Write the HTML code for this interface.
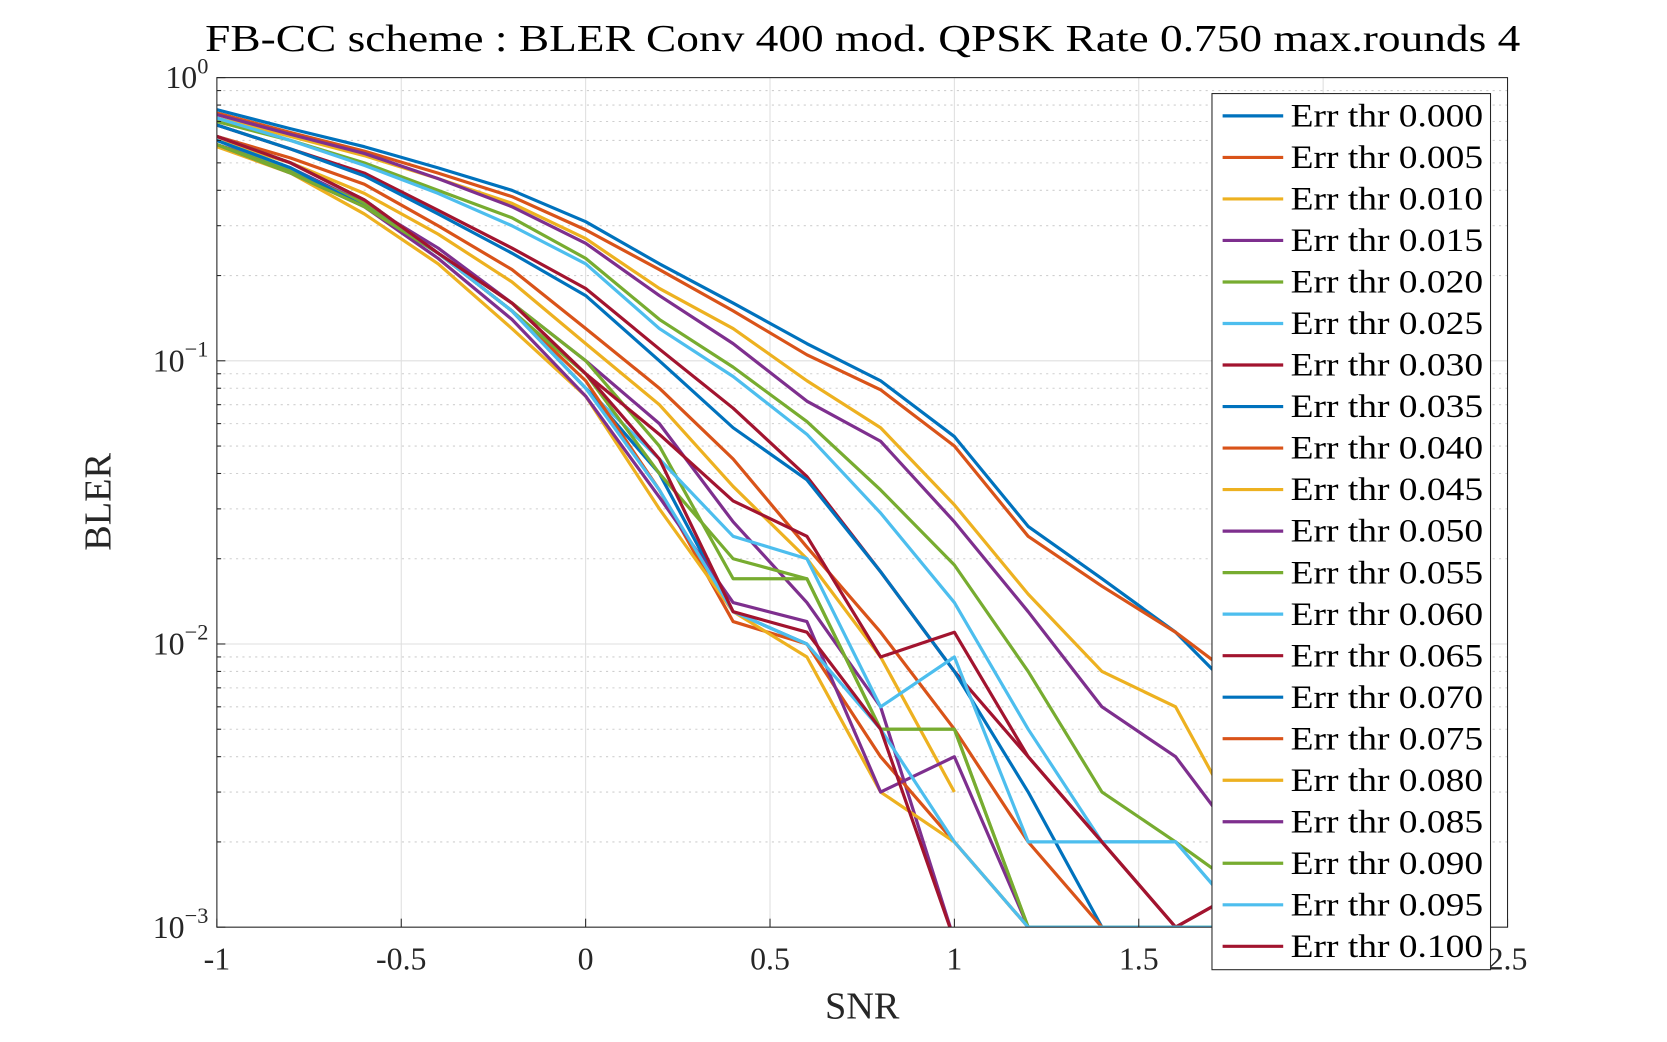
<!DOCTYPE html>
<html><head><meta charset="utf-8"><style>
html,body{margin:0;padding:0;background:#fff}
svg{display:block;font-family:"Liberation Serif",serif}
</style></head><body>
<svg id="chart" width="1667" height="1042" viewBox="0 0 1568 980" preserveAspectRatio="none" xmlns="http://www.w3.org/2000/svg">
<defs><clipPath id="pc"><rect x="204" y="73" width="1214" height="799"/></clipPath></defs>
<rect x="0" y="0" width="1568" height="980" fill="#fff"/>
<rect x="204" y="73" width="1214" height="799" fill="#fff"/>
<g id="grid"></g>
<g id="series" clip-path="url(#pc)"></g>
<rect x="204" y="73" width="1214" height="799" fill="none" stroke="#262626" stroke-width="1"/>
<g id="ticks"></g>
<text x="193" y="48" textLength="1237" lengthAdjust="spacingAndGlyphs" font-size="36" fill="#000">FB-CC scheme : BLER Conv 400 mod. QPSK Rate 0.750 max.rounds 4</text>
<text x="811" y="958" text-anchor="middle" font-size="36" fill="#262626">SNR</text>
<text transform="translate(104,472) rotate(-90)" text-anchor="middle" font-size="36" fill="#262626">BLER</text>
<g id="legend"></g>
</svg>
<script>
const xs=[-1,-0.8,-0.6,-0.4,-0.2,0,0.2,0.4,0.6,0.8,1.0,1.2,1.4,1.6,1.8];
const labels=["0.000","0.005","0.010","0.015","0.020","0.025","0.030","0.035","0.040","0.045","0.050","0.055","0.060","0.065","0.070","0.075","0.080","0.085","0.090","0.095","0.100"];
const s000=[0.77,0.66,0.57,0.48,0.40,0.31,0.22,0.16,0.115,0.085,0.054,0.026,0.017,0.011,0.006];
const s005=[0.75,0.64,0.55,0.46,0.38,0.29,0.21,0.15,0.105,0.079,0.050,0.024,0.016,0.011,0.007];
const s010=[0.72,0.62,0.53,0.44,0.36,0.27,0.18,0.13,0.085,0.058,0.031,0.015,0.008,0.006,0.002];
const s015=[0.74,0.63,0.54,0.44,0.35,0.26,0.17,0.115,0.072,0.052,0.027,0.013,0.006,0.004,0.0018];
const s020=[0.70,0.60,0.50,0.40,0.32,0.23,0.14,0.095,0.061,0.035,0.019,0.008,0.003,0.002,0.0013];
const s025=[0.72,0.60,0.49,0.39,0.30,0.22,0.13,0.088,0.055,0.029,0.014,0.005,0.002,0.002,0.001];
const s030=[0.68,0.56,0.46,0.34,0.25,0.18,0.11,0.068,0.039,0.018,0.008,0.004,0.002,0.001,0.0014];
const s035=[0.68,0.56,0.45,0.33,0.24,0.17,0.10,0.058,0.038,0.018,0.008,0.003,0.001,0.001,0.001];
const s040=[0.62,0.52,0.42,0.30,0.21,0.13,0.08,0.045,0.022,0.011,0.005,0.002,0.001,0.001,0.001];
const s045=[0.60,0.50,0.39,0.28,0.19,0.115,0.07,0.036,0.020,0.009,0.003,null,null,null,null];
const s050=[0.58,0.48,0.36,0.25,0.16,0.10,0.06,0.027,0.014,0.006,0.0009,null,null,null,null];
const s055=[0.58,0.47,0.36,0.24,0.16,0.10,0.05,0.017,0.017,0.005,0.005,0.001,0.001,0.001,0.001];
const s060=[0.60,0.48,0.35,0.24,0.15,0.08,0.045,0.024,0.020,0.006,0.009,0.002,0.002,0.002,0.001];
const s065=[0.62,0.50,0.37,0.24,0.16,0.09,0.055,0.032,0.024,0.009,0.011,0.004,0.002,0.001,0.0014];
const s070=[0.60,0.48,0.35,0.24,0.15,0.08,0.04,0.013,0.010,null,null,null,null,null,null];
const s075=[0.62,0.50,0.37,0.24,0.15,0.085,0.035,0.012,0.010,0.004,0.002,0.001,0.001,0.001,null];
const s080=[0.57,0.46,0.33,0.22,0.13,0.075,0.03,0.013,0.009,0.003,0.002,0.001,0.001,0.001,null];
const s085=[0.58,0.46,0.35,0.23,0.14,0.075,0.033,0.014,0.012,0.003,0.004,0.001,0.001,0.001,null];
const s090=[0.58,0.46,0.35,0.24,0.15,0.09,0.04,0.020,0.017,0.005,0.005,0.001,0.001,0.001,0.001];
const s095=[0.62,0.50,0.37,0.24,0.15,0.08,0.035,0.013,0.010,0.005,0.002,0.001,0.001,0.001,0.001];
const s100=[0.62,0.50,0.37,0.24,0.16,0.09,0.045,0.013,0.011,0.005,0.0009,null,null,null,null];
const series=[s000,s005,s010,s015,s020,s025,s030,s035,s040,s045,s050,s055,s060,s065,s070,s075,s080,s085,s090,s095,s100];
const xTicks=[-1,-0.5,0,0.5,1,1.5,2,2.5];
const xTickLabels=["-1","-0.5","0","0.5","1","1.5","2","2.5"];
const yDecades=[0,-1,-2,-3];

const colors=["#0072BD","#D95319","#EDB120","#7E2F8E","#77AC30","#4DBEEE","#A2142F"];
const NS="http://www.w3.org/2000/svg";
const X0=204,X1=1418,Y0=73,Y1=872;
const xs_=v=>X0+(v-(-1))/(3.5)*(X1-X0);
const ys_=v=>Y0+(0-Math.log10(v))/3*(Y1-Y0);
function mk(t,a,p){const e=document.createElementNS(NS,t);for(const k in a)e.setAttribute(k,a[k]);p.appendChild(e);return e;}
const grid=document.getElementById('grid'),ticks=document.getElementById('ticks');
xTicks.forEach((t,i)=>{
  const x=xs_(t);
  const g=mk('line',{x1:x,x2:x,y1:Y0,y2:Y1,stroke:'#dfdfdf','stroke-width':1},grid);
  
  
  mk('line',{x1:x,x2:x,y1:Y1,y2:Y1-8,stroke:'#262626'},ticks);
  const tx=mk('text',{x:x,y:912,'text-anchor':'middle','font-size':30,fill:'#262626'},ticks);
  tx.textContent=xTickLabels[i];
  
  
});
yDecades.forEach(d=>{
  const y=ys_(Math.pow(10,d));
  const g=mk('line',{x1:X0,x2:X1,y1:y,y2:y,stroke:'#dfdfdf','stroke-width':1},grid);
  
  
  mk('line',{x1:X0,x2:X0+8,y1:y,y2:y,stroke:'#262626'},ticks);
  const tx=mk('text',{x:196,y:y+10,'text-anchor':'end','font-size':30,fill:'#262626'},ticks);
  tx.innerHTML='10<tspan dy="-14" font-size="21">'+(d===0?'0':'\u2212'+(-d))+'</tspan>';
  
  
  if(d>-3){for(let m=2;m<=9;m++){const yy=ys_(m*Math.pow(10,d-1));
    const mg=mk('line',{x1:X0,x2:X1,y1:yy,y2:yy,stroke:'#cfcfcf','stroke-width':1,'stroke-dasharray':'2,4'},grid);
    
    
    mk('line',{x1:X0,x2:X0+4,y1:yy,y2:yy,stroke:'#262626'},ticks);}}
});
const sg=document.getElementById('series');
series.forEach((s,i)=>{
  let d='',pen=false;
  s.forEach((v,j)=>{if(v==null){pen=false;return;}d+=(pen?'L':'M')+xs_(xs[j]).toFixed(1)+','+ys_(v).toFixed(1);pen=true;});
  const p=mk('path',{d:d,fill:'none',stroke:colors[i%7],'stroke-width':3,'stroke-linejoin':'round'},sg);
  
  
});
const lg=document.getElementById('legend');
const box=mk('rect',{x:1140,y:88,width:262,height:824,fill:'#fff',stroke:'#262626','stroke-width':1},lg);


labels.forEach((l,i)=>{
  const y=109+i*39.05;
  const ln=mk('line',{x1:1150,x2:1207,y1:y,y2:y,stroke:colors[i%7],'stroke-width':3},lg);
  
  
  const t=mk('text',{x:1214,y:y+10,'font-size':31,textLength:181,lengthAdjust:'spacingAndGlyphs',fill:'#000'},lg);
  t.textContent='Err thr '+l;
  
  
});
</script>
</body></html>
